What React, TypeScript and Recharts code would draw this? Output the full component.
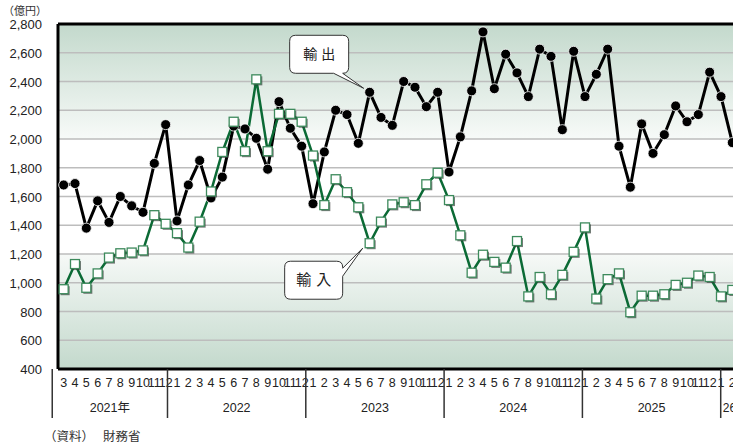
import React from 'react';
import { LineChart, Line, XAxis, YAxis, CartesianGrid, ReferenceLine, ReferenceDot } from 'recharts';

// 月次（2021年3月〜2026年2月）
const categories = [
  '2021/3', '2021/4', '2021/5', '2021/6', '2021/7', '2021/8', '2021/9', '2021/10', '2021/11', '2021/12',
  '2022/1', '2022/2', '2022/3', '2022/4', '2022/5', '2022/6', '2022/7', '2022/8', '2022/9', '2022/10', '2022/11', '2022/12',
  '2023/1', '2023/2', '2023/3', '2023/4', '2023/5', '2023/6', '2023/7', '2023/8', '2023/9', '2023/10', '2023/11', '2023/12',
  '2024/1', '2024/2', '2024/3', '2024/4', '2024/5', '2024/6', '2024/7', '2024/8', '2024/9', '2024/10', '2024/11', '2024/12',
  '2025/1', '2025/2', '2025/3', '2025/4', '2025/5', '2025/6', '2025/7', '2025/8', '2025/9', '2025/10', '2025/11', '2025/12',
  '2026/1', '2026/2',
];

// 輸出（億円）
const exportValues = [
  1680, 1690, 1380, 1570, 1420, 1600, 1535, 1490, 1830, 2100,
  1430, 1680, 1850, 1590, 1735, 2090, 2070, 2005, 1790, 2260, 2075, 1950,
  1550, 1910, 2200, 2170, 1970, 2325, 2150, 2095, 2400, 2360, 2225, 2325,
  1770, 2015, 2335, 2745, 2350, 2590, 2460, 2295, 2625, 2575, 2065, 2610,
  2295, 2450, 2625, 1950, 1665, 2105, 1900, 2030, 2230, 2120, 2170, 2465,
  2295, 1975,
];

// 輸入（億円）
const importValues = [
  955, 1130, 965, 1065, 1175, 1205, 1210, 1225, 1470, 1410,
  1345, 1245, 1425, 1635, 1910, 2120, 1915, 2415, 1915, 2175, 2175, 2120,
  1885, 1540, 1720, 1630, 1525, 1275, 1425, 1545, 1560, 1540, 1685, 1765,
  1575, 1330, 1070, 1195, 1145, 1105, 1290, 905, 1040, 920, 1055, 1215,
  1385, 890, 1025, 1065, 795, 910, 910, 920, 985, 1000, 1050, 1040,
  905, 950,
];

const yTicks = [400, 600, 800, 1000, 1200, 1400, 1600, 1800, 2000, 2200, 2400, 2600, 2800];

// 年の区切り（最後の年は右端で切れて "26" だけ見える）
const yearLabels = ['2021年', '2022', '2023', '2024', '2025', '26'];
const yearStart = [0, 10, 22, 34, 46, 58];
const yearEnd = [9, 21, 33, 45, 57, 59];

const data = categories.map((c, i) => ({ i, cat: c, exp: exportValues[i], imp: importValues[i] }));
const monthTicks = categories.map((_, i) => i);
const lastYear = yearLabels.length - 1;
const yearBounds = yearStart.map((s) => s - 0.5);
const yearCenters = yearStart.map((s, k) => (s + yearEnd[k]) / 2).slice(0, lastYear);
const yearTicks = [...yearBounds, ...yearCenters];

const latin = '"Liberation Sans", Arial, "Noto Sans CJK JP", sans-serif';
const narrow = '"Liberation Sans Narrow", "Arial Narrow", "Liberation Sans", sans-serif';
const jp = '"Noto Sans CJK JP", "Noto Sans", sans-serif';

const MonthTick = ({ x, y, payload }: any) => (
  <text x={x} y={y + 18} textAnchor="middle" fontSize={12.5} fontFamily={narrow} fill="#222">
    {categories[payload.value].split('/')[1]}
  </text>
);

const YearTick = ({ x, y, payload }: any) => {
  const v = payload.value;
  const b = yearBounds.indexOf(v);
  if (b >= 0) {
    return (
      <g>
        <line x1={x} x2={x} y1={y - 40} y2={y + 9} stroke="#333" strokeWidth={1.5} />
        {b === lastYear && (
          <text x={x + 2} y={y + 3} textAnchor="start" fontSize={12} fontFamily={latin} fill="#222">
            {yearLabels[b]}
          </text>
        )}
      </g>
    );
  }
  const k = yearCenters.indexOf(v);
  return (
    <text x={x} y={y + 3} textAnchor="middle" fontSize={12.5} fontFamily={latin} fill="#222">
      {yearLabels[k]}
    </text>
  );
};

const YTick = ({ x, y, payload }: any) => (
  <text x={x} y={y + 5} textAnchor="end" fontSize={13} fontFamily={latin} fill="#222">
    {payload.value.toLocaleString('en-US')}
  </text>
);

const ExportDot = (p: any) => (
  <circle key={`e${p.index}`} cx={p.cx} cy={p.cy} r={5} fill="#000" stroke="#fff" strokeWidth={0.8} />
);

const ImportDot = (p: any) => (
  <g key={`m${p.index}`}>
    <rect x={p.cx - 3} y={p.cy - 3} width={9} height={9} fill="#333" opacity={0.65} />
    <rect x={p.cx - 4.5} y={p.cy - 4.5} width={9} height={9} fill="#fff" stroke="#3d8a5c" strokeWidth={1.3} />
  </g>
);

const r = 6;

const ExportCallout = ({ cx, cy }: any) => {
  const L = cx - 80, R = cx - 21, T = cy - 57, B = cy - 19;
  const d = `M${L + r},${T} H${R - r} Q${R},${T} ${R},${T + r} V${B - r} Q${R},${B} ${R - r},${B} H${cx - 27} L${cx - 6},${cy - 4} L${cx - 36},${B} H${L + r} Q${L},${B} ${L},${B - r} V${T + r} Q${L},${T} ${L + r},${T} Z`;
  const mx = (L + R) / 2, my = (T + B) / 2 + 5;
  return (
    <g>
      <path d={d} fill="#fff" stroke="#333" strokeWidth={1} />
      <text x={mx - 9} y={my} textAnchor="middle" fontSize={14} fontFamily={jp} fill="#222">輸</text>
      <text x={mx + 9} y={my} textAnchor="middle" fontSize={14} fontFamily={jp} fill="#222">出</text>
    </g>
  );
};

const ImportCallout = ({ cx, cy }: any) => {
  const L = cx - 85, R = cx - 27, T = cy + 18, B = cy + 56;
  const d = `M${L + r},${T} H${R - r} Q${R},${T} ${R},${T + r} V${cy + 25} L${cx - 7},${cy + 5} L${R},${cy + 33} V${B - r} Q${R},${B} ${R - r},${B} H${L + r} Q${L},${B} ${L},${B - r} V${T + r} Q${L},${T} ${L + r},${T} Z`;
  const mx = (L + R) / 2, my = (T + B) / 2 + 5;
  return (
    <g>
      <path d={d} fill="#fff" stroke="#333" strokeWidth={1} />
      <text x={mx - 10} y={my} textAnchor="middle" fontSize={15} fontFamily={jp} fill="#222">輸</text>
      <text x={mx + 10} y={my} textAnchor="middle" fontSize={15} fontFamily={jp} fill="#222">入</text>
    </g>
  );
};

export default function App() {
  return (
    <div style={{ position: 'fixed', left: 0, top: 0, width: 733, height: 448, overflow: 'hidden', background: '#fff' }}>
      <svg width={0} height={0} style={{ position: 'absolute' }}>
        <defs>
          <linearGradient id="plotBg" x1="0" y1="0" x2="0" y2="1">
            <stop offset="0" stopColor="#c3d9cc" />
            <stop offset="0.333" stopColor="#f7faf8" />
            <stop offset="0.334" stopColor="#ffffff" />
            <stop offset="0.666" stopColor="#ffffff" />
            <stop offset="0.667" stopColor="#f6f9f7" />
            <stop offset="1" stopColor="#c3d9cc" />
          </linearGradient>
        </defs>
      </svg>
      <div style={{ position: 'absolute', left: 3, top: 3, fontSize: 11, lineHeight: '14px', fontFamily: jp, color: '#333' }}>
        （億円）
      </div>
      <div style={{ position: 'absolute', left: 44, top: 428, fontSize: 12.5, lineHeight: '16px', fontFamily: jp, color: '#333', whiteSpace: 'pre' }}>
        {'（資料）　 財務省'}
      </div>
      <div style={{ position: 'absolute', left: 0, top: 0 }}>
        <LineChart width={760} height={448} data={data} margin={{ top: 24, right: 22, left: 0, bottom: 0 }}>
          <CartesianGrid xAxisId="m" vertical={false} stroke="#bdbdbd" strokeWidth={1.5} fill="url(#plotBg)" fillOpacity={1} />
          <XAxis
            xAxisId="m"
            dataKey="i"
            type="number"
            domain={[-0.5, 59.5]}
            ticks={monthTicks}
            interval={0}
            height={40}
            tickSize={0}
            tickMargin={0}
            axisLine={false}
            tickLine={false}
            tick={<MonthTick />}
            allowDataOverflow
          />
          <XAxis
            xAxisId="y"
            type="number"
            domain={[-0.5, 59.5]}
            ticks={yearTicks}
            interval={0}
            height={39}
            tickSize={0}
            tickMargin={0}
            axisLine={false}
            tickLine={false}
            tick={<YearTick />}
            allowDataOverflow
          />
          <YAxis
            domain={[400, 2800]}
            ticks={yTicks}
            interval={0}
            width={58}
            tickSize={0}
            tickMargin={16}
            axisLine={false}
            tickLine={false}
            tick={<YTick />}
          />
          <ReferenceLine xAxisId="m" y={2800} stroke="#000" strokeWidth={3} />
          <ReferenceLine xAxisId="m" y={400} stroke="#000" strokeWidth={3} />
          <ReferenceLine xAxisId="m" x={-0.5} stroke="#000" strokeWidth={3} />
          <Line
            xAxisId="m"
            dataKey="exp"
            stroke="#000"
            strokeWidth={3}
            dot={ExportDot}
            isAnimationActive={false}
          />
          <Line
            xAxisId="m"
            dataKey="imp"
            stroke="#0b6a35"
            strokeWidth={2.5}
            dot={ImportDot}
            isAnimationActive={false}
          />
          <ReferenceDot xAxisId="m" x={27} y={exportValues[27]} r={0} shape={ExportCallout} />
          <ReferenceDot xAxisId="m" x={27} y={importValues[27]} r={0} shape={ImportCallout} />
        </LineChart>
      </div>
    </div>
  );
}
